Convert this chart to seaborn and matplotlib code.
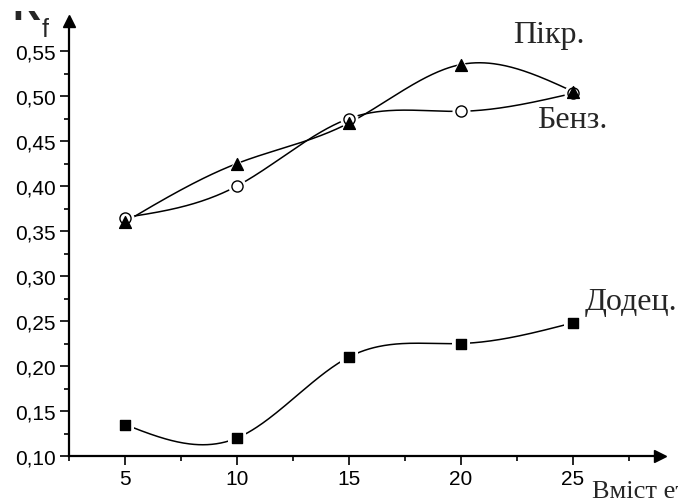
import numpy as np
import pandas as pd
import matplotlib
matplotlib.use("Agg")
import matplotlib.pyplot as plt
from matplotlib.patches import Rectangle
import seaborn as sns

# ---------- data ----------
content = [5, 10, 15, 20, 25]
rf_pikr = [0.360, 0.425, 0.470, 0.535, 0.505]
rf_benz = [0.365, 0.400, 0.475, 0.483, 0.503]
rf_dodec = [0.135, 0.120, 0.210, 0.225, 0.248]
y_ticks = [0.10, 0.15, 0.20, 0.25, 0.30, 0.35, 0.40, 0.45, 0.50, 0.55]


def natural_spline(x, y, n=300):
    """natural cubic spline through the points (drawing only)"""
    x = np.asarray(x, float)
    y = np.asarray(y, float)
    k = len(x)
    h = np.diff(x)
    A = np.zeros((k, k))
    b = np.zeros(k)
    A[0, 0] = A[-1, -1] = 1
    for i in range(1, k - 1):
        A[i, i - 1] = h[i - 1]
        A[i, i] = 2 * (h[i - 1] + h[i])
        A[i, i + 1] = h[i]
        b[i] = 3 * ((y[i + 1] - y[i]) / h[i] - (y[i] - y[i - 1]) / h[i - 1])
    c = np.linalg.solve(A, b)
    xs = np.linspace(x[0], x[-1], n)
    idx = np.clip(np.searchsorted(x, xs) - 1, 0, k - 2)
    dx = xs - x[idx]
    bb = (y[idx + 1] - y[idx]) / h[idx] - h[idx] * (2 * c[idx] + c[idx + 1]) / 3
    dd = (c[idx + 1] - c[idx]) / (3 * h[idx])
    ys = y[idx] + bb * dx + c[idx] * dx ** 2 + dd * dx ** 3
    return xs, ys


sns.set_style("ticks")
plt.rcParams['font.family'] = ['Liberation Sans', 'DejaVu Sans']

fig = plt.figure(figsize=(6.78, 5.02), dpi=100)
ax = fig.add_axes([69 / 678, 45 / 502, (660 - 69) / 678, (457 - 22) / 502])

series = [
    (rf_benz, 'o', 'white', 8.0),
    (rf_pikr, '^', 'black', 8.5),
    (rf_dodec, 's', 'black', 7.5),
]

for vals, mk, fc, ms in series:
    xs, ys = natural_spline(content, vals)
    sns.lineplot(x=xs, y=ys, ax=ax, color='black', linewidth=1.1, zorder=2,
                 sort=False, estimator=None)

for vals, mk, fc, ms in series:
    df = pd.DataFrame({'x': content, 'y': vals})
    # white halo so the line stops short of the marker
    sns.scatterplot(data=df, x='x', y='y', ax=ax, marker=mk, s=(ms + 5) ** 2,
                    color='white', edgecolor='white', linewidth=0, zorder=3)
    sns.scatterplot(data=df, x='x', y='y', ax=ax, marker=mk, s=ms ** 2,
                    color=fc, edgecolor='black', linewidth=1.0, zorder=4)

ax.set_xlim(2.5, 2.5 + (660 - 69) / 22.4)
ax.set_ylim(0.10, 0.10 + (457 - 22) / 900)
ax.set_xticks(content)
ax.set_xticks([2.5, 7.5, 12.5, 17.5, 22.5, 27.5], minor=True)
ax.set_yticks(y_ticks)
ax.set_yticks([0.125, 0.175, 0.225, 0.275, 0.325, 0.375, 0.425, 0.475, 0.525],
              minor=True)
ax.set_yticklabels([f"{v:.2f}".replace('.', ',') for v in y_ticks])
ax.set_xticklabels([str(v) for v in content])
ax.tick_params(axis='both', which='major', labelsize=15, length=6.5, width=1.2,
               color='black', labelcolor='black', pad=3)
ax.tick_params(axis='both', which='minor', length=3.5, width=1.2, color='black')
ax.set_xlabel('')
ax.set_ylabel('')

for s in ['top', 'right']:
    ax.spines[s].set_visible(False)
for s in ['left', 'bottom']:
    ax.spines[s].set_linewidth(1.6)
    ax.spines[s].set_color('black')

# axis arrows
ax.plot(1, 0, marker='>', color='black', markersize=8, transform=ax.transAxes,
        clip_on=False)
ax.plot(0, 1, marker='^', color='black', markersize=8, transform=ax.transAxes,
        clip_on=False)

# text labels
serif = ['Liberation Serif', 'DejaVu Serif']
fig.text(513 / 678, 1 - 43 / 502, 'Пікр.', family=serif, fontsize=23)
fig.text(537 / 678, 1 - 128 / 502, 'Бенз.', family=serif, fontsize=23)
fig.text(585 / 678, 1 - 310 / 502, 'Додец.', family=serif, fontsize=23)
fig.text(592 / 678, 1 - 498 / 502, 'Вміст етанолу, %', family=serif, fontsize=19)

# y label "R_f": the top of the R is cropped away as in the source
r_txt = fig.text(12 / 678, 1 - 20 / 502, 'R', fontsize=28, fontweight='bold')
clip = Rectangle((0, 1 - 22 / 502), 60 / 678, 10 / 502, transform=fig.transFigure,
                 visible=False)
fig.add_artist(clip)
r_txt.set_clip_path(clip)
fig.text(42 / 678, 1 - 37 / 502, 'f', fontsize=18)

fig.savefig('out.png', dpi=100)
